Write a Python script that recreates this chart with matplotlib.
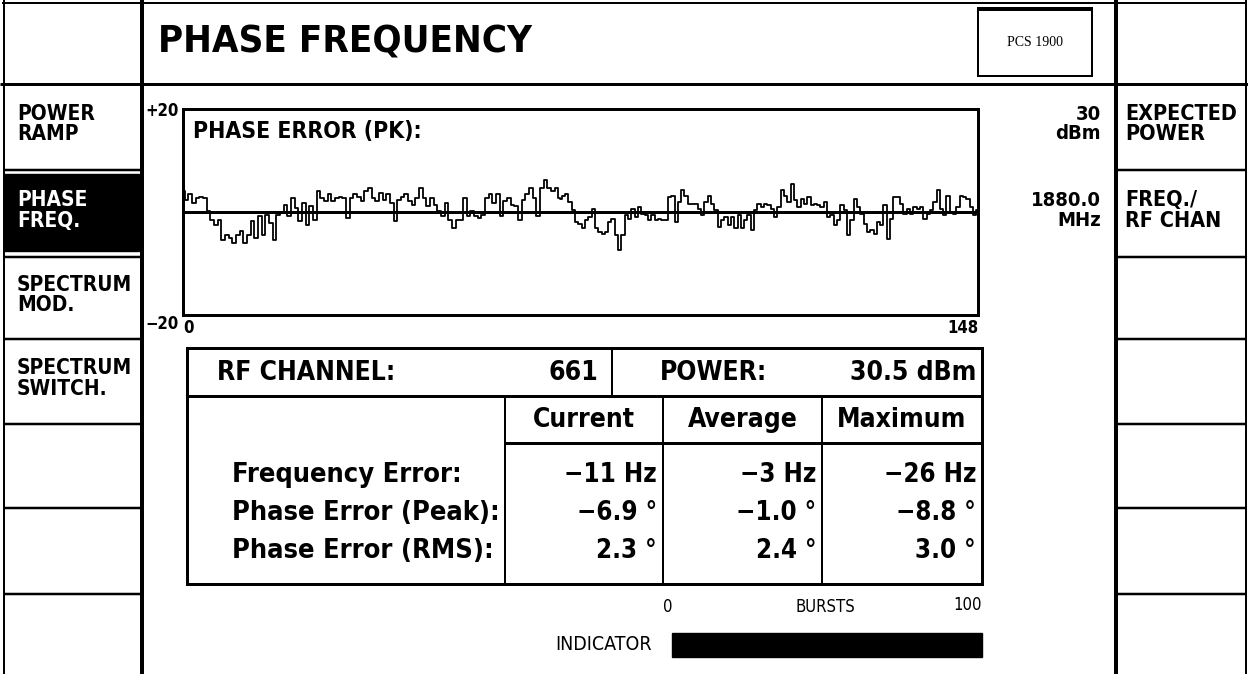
# Messgeraet-Anzeige: Phase/Frequency Error (PCS 1900)
import numpy as np
import matplotlib.pyplot as plt
from matplotlib.patches import Rectangle

W, H = 1248, 674
PX = 0.72  # 1 pixel in points bei dpi=100

# Phasenfehler-Verlauf (Grad), linke und rechte Haelfte
phase_a = [4.0, 2.4, 3.4, 1.7, 2.7, 3.0, 2.7, 0.1, -1.5, -2.5, -1.5, -5.4, -4.4, -5.0,
           -6.0, -4.4, -3.7, -6.0, -4.4, -1.8, -5.0, -0.8, -4.4, -0.5, -2.1, -5.4, -0.5,
           -0.2, 1.4, -0.8, 2.7, 0.8, -1.8, 1.7, -2.5, 1.1, -1.5, 4.0, 2.7, 2.1, 3.4, 2.1,
           2.7, 3.0, 2.7, -1.2, 2.7, 3.4, 3.0, 2.1, 4.0, 4.6, 2.7, 2.1, 3.7, 2.4, 3.4, 1.7,
           -1.8, 2.4, 3.0, 3.4, 2.1, 1.4, 2.7, 4.6, 2.7, 1.1, 2.7, 1.4, 0.1, -0.8, 1.7,
           -1.5, -3.1, -1.5, -1.5, 2.7, -0.8, 0.1, -0.8, -1.2, -0.5, 2.7, 3.4, 1.7, 3.4,
           -0.8, 2.1, 2.7, 1.4, 1.1, -1.5, 2.4, 3.4, 4.6, 2.7, -0.8, 4.6, 6.3, 4.6, 4.0,
           4.6, 2.7]
phase_b = [2.6, 3.2, 3.5, 1.9, 0.3, -1.9, -2.3, -3.2, -1.6, -1.0, 0.6, -3.2, -3.9, -4.2,
           -3.9, -1.9, -1.3, -4.5, -7.4, -4.5, -0.6, -1.3, 0.6, -1.0, 1.0, -0.3, -0.6, -1.6,
           -0.6, -1.6, -1.3, -1.6, -1.6, 2.9, 3.2, -1.9, 1.9, 4.2, 3.2, 1.6, 1.6, 1.6, 0.6,
           -0.6, 1.9, 3.2, 1.6, 0.3, -2.9, -1.6, -1.0, -2.6, -1.0, -3.2, -0.6, -3.2, -1.6,
           -0.6, -3.5, 0.3, 1.6, 1.0, 1.6, 1.3, 0.6, -1.0, 1.0, 4.2, 3.2, 1.9, 5.5, 2.3,
           1.0, 2.6, 1.6, 2.9, 1.3, 1.6, 1.3, 1.0, 1.9, -1.0, -0.6, -2.6, -1.6, 1.3, 0.3,
           -4.5, -1.6, 2.6, 1.0, -0.3, -2.3, -3.9, -3.5, -4.2, -1.9, -2.6, 1.3, -5.2, -1.3,
           2.9, 2.9, 1.6, -0.3, 0.6, -0.3, 1.0, 0.6, 1.0, -1.3, -0.3, 0.3, 1.9, 4.2, 0.6,
           -0.6, 3.2, 0.0, -0.3, 1.0, 3.2, 2.9, 2.6, 1.0, -0.6, 0.3]
split_sym = 70.2   # Symbol an der Bildmitte
n_symbols = 148

left_buttons = [("POWER\nRAMP", False), ("PHASE\nFREQ.", True),
                ("SPECTRUM\nMOD.", False), ("SPECTRUM\nSWITCH.", False)]
right_buttons = ["EXPECTED\nPOWER", "FREQ./\nRF CHAN"]
right_values = ["30\ndBm", "1880.0\nMHz"]
box_lines = [170, 257, 339, 424, 508, 594]

rf_channel = "661"
power = "30.5 dBm"
col_names = ["Current", "Average", "Maximum"]
row_names = ["Frequency Error:", "Phase Error (Peak):", "Phase Error (RMS):"]
values = [["\u221211 Hz", "\u22123 Hz", "\u221226 Hz"],
          ["\u22126.9 \u00b0", "\u22121.0 \u00b0", "\u22128.8 \u00b0"],
          ["2.3 \u00b0", "2.4 \u00b0", "3.0 \u00b0"]]

FONT = dict(family=["DejaVu Sans"], fontstretch="condensed", fontweight="bold")

fig = plt.figure(figsize=(W / 100, H / 100), dpi=100)
bg = fig.add_axes([0, 0, 1, 1])
bg.set_xlim(0, W)
bg.set_ylim(H, 0)
bg.axis("off")

def line(x0, x1, y0, y1, lw):
    bg.plot([x0, x1], [y0, y1], color="black", lw=lw * PX, solid_capstyle="butt")

# Rahmen
line(2, 1246, 3, 3, 2)
line(4, 4, 0, H, 2)
line(0, W, 84, 84, 3)
line(142, 142, 0, H, 4)
line(1116, 1116, 0, H, 4)
line(1246, 1246, 0, H, 2)
for y in box_lines:
    line(4, 142, y, y, 2.5)
    line(1116, 1246, y, y, 2.5)

# Titel
bg.text(158, 43, "PHASE FREQUENCY", fontsize=27.5, va="center", ha="left", **FONT)
bg.add_patch(Rectangle((978, 8), 114, 68, fill=False, lw=2 * PX, ec="black"))
line(978, 1092, 9, 9, 4)
bg.text(1035, 43, "PCS 1900", fontsize=10, family="Liberation Serif",
        ha="center", va="center")

# Softkeys links
tops = [84] + box_lines
for i, (label, active) in enumerate(left_buttons):
    y0, y1 = tops[i], tops[i + 1]
    col = "black"
    if active:
        bg.add_patch(Rectangle((4, y0 + 4), 135, y1 - y0 - 10, color="black"))
        col = "white"
    bg.text(17, (y0 + y1) / 2 - 3, label, color=col, fontsize=15, ha="left",
            va="center", linespacing=1.05, **FONT)

# Softkeys rechts + Werte
for i, label in enumerate(right_buttons):
    y0, y1 = tops[i], tops[i + 1]
    bg.text(1125, (y0 + y1) / 2 - 3, label, fontsize=15.5, ha="left", va="center",
            linespacing=1.05, **FONT)
    bg.text(1101, (y0 + y1) / 2 - 3, right_values[i], fontsize=14.5, ha="right",
            va="center", linespacing=1.05, **FONT)

# Phasenfehler-Diagramm
ax = fig.add_axes([183 / W, 1 - 315 / H, (978 - 183) / W, (315 - 109) / H])
xa = np.linspace(0, split_sym, len(phase_a))
xb = np.linspace(split_sym, n_symbols, len(phase_b))
ax.plot(np.concatenate([xa, xb]), phase_a + phase_b, color="black", lw=1.8 * PX,
        drawstyle="steps-mid")
ax.axhline(0, color="black", lw=3 * PX)
ax.set_xlim(0, n_symbols)
ax.set_ylim(-20, 20)
for s in ax.spines.values():
    s.set_linewidth(3 * PX)
ax.set_yticks([-20, 20], ["\u221220", "+20"])
ax.set_xticks([0, n_symbols], ["0", str(n_symbols)])
ax.tick_params(length=0, labelsize=12, pad=3)
for t in ax.get_xticklabels() + ax.get_yticklabels():
    t.set_fontstretch("condensed")
    t.set_fontweight("bold")
ax.get_xticklabels()[0].set_ha("left")
ax.get_xticklabels()[1].set_ha("right")
ax.get_yticklabels()[0].set_va("top")
ax.text(0.012, 0.89, "PHASE ERROR (PK):", transform=ax.transAxes, fontsize=16.5,
        ha="left", va="center", **FONT)

# Tabelle
TS = 19
bg.add_patch(Rectangle((187, 348), 795, 236, fill=False, lw=3 * PX, ec="black"))
line(187, 982, 396, 396, 3)
line(612, 612, 348, 396, 2)
col_x = [505, 663, 822, 982]
for x in col_x[:3]:
    line(x, x, 396, 584, 2)
line(505, 982, 443, 443, 3)
bg.text(217, 373, "RF CHANNEL:", fontsize=TS, ha="left", va="center", **FONT)
bg.text(598, 373, rf_channel, fontsize=TS, ha="right", va="center", **FONT)
bg.text(660, 373, "POWER:", fontsize=TS, ha="left", va="center", **FONT)
bg.text(976, 373, power, fontsize=TS, ha="right", va="center", **FONT)
for j, name in enumerate(col_names):
    bg.text((col_x[j] + col_x[j + 1]) / 2, 420, name, fontsize=TS, ha="center",
            va="center", **FONT)
row_y = [475, 513, 551]
for i, name in enumerate(row_names):
    bg.text(232, row_y[i], name, fontsize=TS + 0.5, ha="left", va="center", **FONT)
    for j in range(3):
        bg.text(col_x[j + 1] - 6, row_y[i], values[i][j], fontsize=TS - 0.5,
                ha="right", va="center", **FONT)

# Burst-Anzeige
SMALL = dict(fontstretch="condensed", va="center")
bg.text(668, 607, "0", ha="center", fontsize=12, **SMALL)
bg.text(825, 607, "BURSTS", ha="center", fontsize=12, **SMALL)
bg.text(982, 605, "100", ha="right", fontsize=12, **SMALL)
bg.text(652, 645, "INDICATOR", ha="right", fontsize=14, **SMALL)
bg.add_patch(Rectangle((672, 633), 310, 24, color="black"))

fig.savefig("out.png", dpi=100)
